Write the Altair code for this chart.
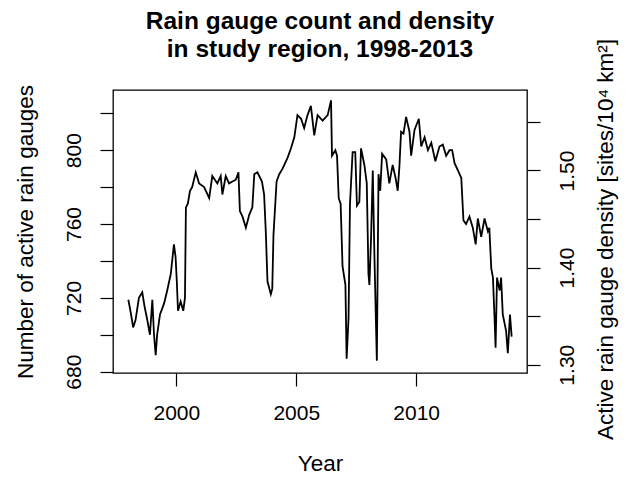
import altair as alt
import pandas as pd

# Year (decimal) and number of active rain gauges
years = [
    1998.00, 1998.10, 1998.20, 1998.30, 1998.44, 1998.58, 1998.68, 1998.79, 1998.90, 1999.00,
    1999.07, 1999.14, 1999.20, 1999.32, 1999.49, 1999.62, 1999.77, 1999.90, 1999.97, 2000.02,
    2000.07, 2000.18, 2000.29, 2000.36, 2000.40, 2000.48, 2000.57, 2000.66, 2000.81, 2000.95,
    2001.16, 2001.37, 2001.50, 2001.71, 2001.85, 2001.92, 2002.06, 2002.20, 2002.34, 2002.48,
    2002.59, 2002.65, 2002.76, 2002.90, 2003.04, 2003.17, 2003.25, 2003.38, 2003.57, 2003.66,
    2003.73, 2003.80, 2003.94, 2004.00, 2004.05, 2004.18, 2004.29, 2004.43, 2004.64, 2004.78,
    2004.92, 2005.05, 2005.20, 2005.33, 2005.47, 2005.61, 2005.75, 2005.89, 2006.10, 2006.31,
    2006.45, 2006.49, 2006.63, 2006.70, 2006.77, 2006.85, 2006.93, 2007.05, 2007.10, 2007.18,
    2007.24, 2007.35, 2007.46, 2007.53, 2007.63, 2007.70, 2007.84, 2007.94, 2008.01, 2008.05,
    2008.12, 2008.19, 2008.26, 2008.36, 2008.43, 2008.50, 2008.58, 2008.75, 2008.88, 2009.02,
    2009.14, 2009.23, 2009.30, 2009.37, 2009.47, 2009.58, 2009.72, 2009.79, 2009.93, 2010.11,
    2010.21, 2010.35, 2010.49, 2010.63, 2010.80, 2010.97, 2011.11, 2011.25, 2011.39, 2011.50,
    2011.60, 2011.74, 2011.88, 2011.97, 2012.08, 2012.22, 2012.36, 2012.48, 2012.57, 2012.71,
    2012.85, 2012.99, 2013.05, 2013.13, 2013.20, 2013.27, 2013.31, 2013.37, 2013.48, 2013.54,
    2013.61, 2013.75, 2013.82, 2013.91, 2013.98,
]
counts = [
    719, 712, 704, 708, 720, 723, 715, 708, 700, 719,
    700, 689, 700, 711, 717, 724, 733, 749, 742, 729,
    713, 718, 713, 720, 769, 771, 778, 780, 788, 782,
    780, 774, 786, 782, 786, 776, 786, 782, 783, 784,
    788, 767, 764, 758, 765, 769, 787, 788, 783, 776,
    756, 729, 722, 725, 754, 783, 787, 790, 796, 801,
    807, 819, 817, 812, 819, 824, 808, 819, 816, 819,
    827, 797, 800, 797, 774, 771, 737, 727, 687, 709,
    771, 799, 799, 770, 772, 801, 792, 782, 733, 727,
    753, 789, 742, 686, 787, 778, 798, 795, 782, 792,
    785, 778, 791, 810, 809, 818, 810, 797, 811, 817,
    802, 807, 800, 804, 794, 802, 803, 797, 800, 800,
    793, 789, 785, 762, 760, 764, 758, 749, 763, 753,
    763, 756, 758, 736, 731, 708, 693, 731, 724, 731,
    711, 702, 690, 711, 699,
]
AREA = 526.0  # 10^4 km^2 (density = count / area)

left_ticks = [680, 700, 720, 740, 760, 780, 800, 820]
right_ticks = [1.30, 1.35, 1.40, 1.45, 1.50, 1.55]
x_ticks = [2000, 2005, 2010]

df = pd.DataFrame({"year": years, "count": counts})
df["density"] = df["count"] / AREA

YMIN, YMAX = 679.3, 832.6
FONT = "Liberation Sans"

xenc = alt.X(
    "year:Q",
    scale=alt.Scale(domain=[1997.36, 2014.62], nice=False, zero=False),
    axis=alt.Axis(values=x_ticks, format="d", title="Year", titleY=90,
                  titleBaseline="middle", labelPadding=16),
)

base = alt.Chart(df)

line = base.mark_line(color="black", strokeWidth=1.8).encode(
    x=xenc,
    y=alt.Y(
        "count:Q",
        scale=alt.Scale(domain=[YMIN, YMAX], nice=False, zero=False),
        axis=alt.Axis(
            values=left_ticks,
            labelExpr="datum.value % 40 == 0 ? datum.label : ''",
            labelAngle=270,
            labelPadding=16,
            title="Number of active rain gauges",
            titleX=-88, titleY=141.5, titleAngle=270,
            titleBaseline="middle", titleAlign="center",
        ),
    ),
)

dens = base.mark_line(color="black", strokeOpacity=0).encode(
    x=xenc,
    y=alt.Y(
        "density:Q",
        scale=alt.Scale(domain=[YMIN / AREA, YMAX / AREA], nice=False, zero=False),
        axis=alt.Axis(
            orient="right",
            values=right_ticks,
            format=".2f",
            labelExpr="abs(datum.value * 10 - round(datum.value * 10)) < 0.001 ? datum.label : ''",
            labelAngle=270,
            labelPadding=16,
            title="Active rain gauge density [sites/10\u2074 km\u00b2]",
            titleX=78, titleY=149, titleAngle=270,
            titleBaseline="middle", titleAlign="center",
        ),
    ),
)

chart = (
    alt.layer(line, dens)
    .resolve_scale(y="independent")
    .properties(
        width=414,
        height=283,
        padding={"left": 113, "top": 90, "right": 99, "bottom": 104},
        autosize=alt.AutoSizeParams(type="none"),
        title=alt.TitleParams(
            text=["Rain gauge count and density", "in study region, 1998-2013"],
            fontSize=24.5, fontWeight="bold", font=FONT, color="black",
            anchor="middle", lineHeight=28, offset=0, dy=24,
        ),
    )
    .configure(background="white")
    .configure_view(stroke="black", strokeWidth=1.3)
    .configure_axis(
        grid=False, domain=False,
        tickColor="black", tickSize=13, tickWidth=1.2,
        labelFont=FONT, labelFontSize=21, labelColor="black",
        titleFont=FONT, titleFontSize=22.5, titleFontWeight="normal", titleColor="black",
    )
)

chart.save("out.html", embed_options={"renderer": "svg", "actions": False})
